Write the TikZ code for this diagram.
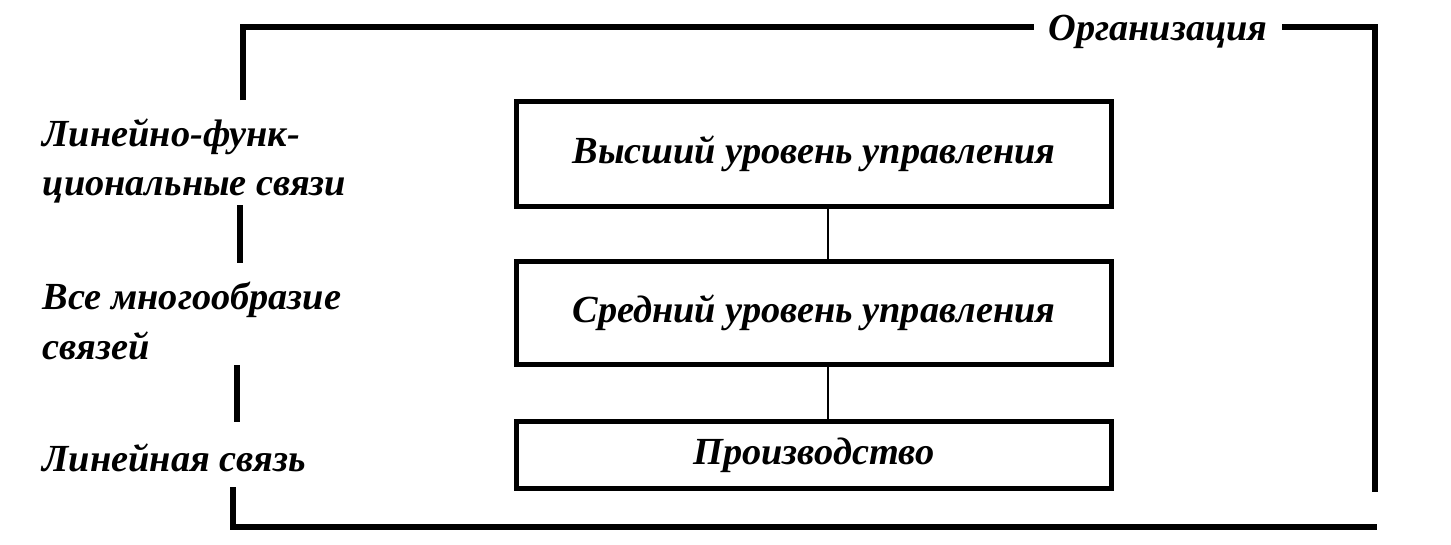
\documentclass[tikz,border=0pt]{standalone}
\usepackage{fontspec}
\setmainfont{Liberation Serif}
\usepackage{tikz}
\usetikzlibrary{positioning}

\begin{document}
\begin{tikzpicture}[
  x=0.01cm, y=-0.01cm,
  font=\fontsize{10.9}{14.2}\selectfont\bfseries\itshape,
  lvl/.style={draw,line width=1.5pt,minimum width=5.95cm,align=center,inner sep=2pt},
  lbl/.style={anchor=west,align=left,inner sep=0pt},
  frame/.style={line width=1.5pt},
  link/.style={line width=0.7pt}
]
\useasboundingbox (0,0) rectangle (1451,544);
% levels
\node[lvl,minimum height=1.05cm] (top) at (814,154) {Высший уровень управления};
\node[lvl,minimum height=1.03cm] (mid) at (814,313) {Средний уровень управления};
\node[lvl,minimum height=0.67cm] (prod) at (814,455) {Производство};
\draw[link] ([xshift=1.4mm]top.south) -- ([xshift=1.4mm]mid.north);
\draw[link] ([xshift=1.4mm]mid.south) -- ([xshift=1.4mm]prod.north);
% left labels
\node[lbl] (lf) at (42,161) {Линейно-функ-\\циональные связи};
\node[lbl] (all) at (42,321) {Все многообразие\\связей};
\node[lbl] (lin) at (42,458) {Линейная связь};
% organisation frame
\node[inner sep=4pt] (org) at (1158,32) {Организация};
\draw[frame] (243,100) -- (243,27) -- (org.west |- 0,27);
\draw[frame] (org.east |- 0,27) -- (1375,27) -- (1375,492);
\draw[frame] (240,205) -- (240,263);
\draw[frame] (237,365) -- (237,422);
\draw[frame] (233,487) -- (233,527) -- (1377,527);
\end{tikzpicture}
\end{document}
